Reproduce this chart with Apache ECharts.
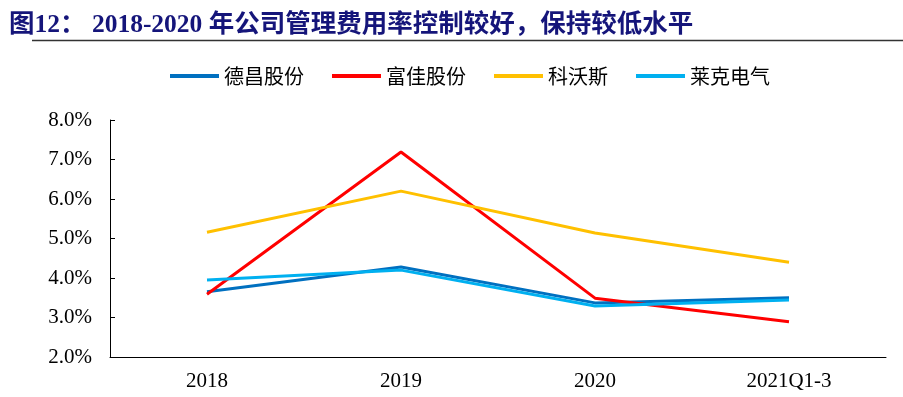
<!DOCTYPE html>
<html><head><meta charset="utf-8">
<script src="https://cdn.jsdelivr.net/npm/echarts@6/dist/echarts.min.js"></script>
<style>html,body{margin:0;padding:0;background:#fff}#c{width:903px;height:397px}</style>
</head><body><div id="c"></div>
<script>
const categories = ['2018', '2019', '2020', '2021Q1-3'];
const seriesNames = ['德昌股份', '富佳股份', '科沃斯', '莱克电气'];
const dechang = [3.65, 4.28, 3.37, 3.50];
const fujia = [3.59, 7.19, 3.49, 2.89];
const ecovacs = [5.16, 6.20, 5.14, 4.40];
const kingclean = [3.95, 4.20, 3.29, 3.44];
const yTicks = [2, 3, 4, 5, 6, 7, 8];
const colors = ['#0070C0', '#FF0000', '#FFC000', '#00B0F0'];
const titleText = '图12： 2018-2020 年公司管理费用率控制较好，保持较低水平';

const chart = echarts.init(document.getElementById('c'));
const values = [dechang, fujia, ecovacs, kingclean];
chart.setOption({
  animation: false,
  color: colors,
  title: {
    text: titleText, left: 4, top: 8,
    textStyle: { fontFamily: 'Liberation Serif, Noto Sans CJK SC', fontWeight: 'bold', fontSize: 25.5, color: '#15157A' }
  },
  graphic: [{ type: 'line', shape: { x1: 32, y1: 40.5, x2: 903, y2: 40.5 }, style: { stroke: '#333', lineWidth: 1.5 } }],
  legend: {
    top: 61, left: 165, itemWidth: 49, itemHeight: 4, itemGap: 28,
    icon: 'rect',
    textStyle: { fontFamily: 'Noto Sans CJK SC', fontSize: 20, color: '#000' },
    data: seriesNames
  },
  grid: { left: 110, right: 17, top: 120, bottom: 40, containLabel: false },
  xAxis: {
    type: 'category', data: categories, boundaryGap: true,
    axisLine: { lineStyle: { color: '#000', width: 1 } },
    axisTick: { inside: true, length: 5, lineStyle: { color: '#000' } },
    axisLabel: { margin: 14, fontFamily: 'Liberation Serif', fontSize: 21, color: '#000' }
  },
  yAxis: {
    type: 'value', min: yTicks[0], max: yTicks[yTicks.length - 1], interval: 1,
    splitLine: { show: false },
    axisLine: { show: true, lineStyle: { color: '#000', width: 1 } },
    axisTick: { show: true, inside: true, length: 5, lineStyle: { color: '#000' } },
    axisLabel: { margin: 18, fontFamily: 'Liberation Serif', fontSize: 21, color: '#000', formatter: v => v.toFixed(1) + '%' }
  },
  series: seriesNames.map((n, i) => ({
    name: n, type: 'line', data: values[i], symbol: 'none',
    lineStyle: { width: 3, color: colors[i] }, itemStyle: { color: colors[i] }
  }))
});
</script></body></html>
